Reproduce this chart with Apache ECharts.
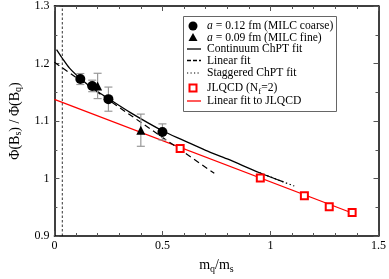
<!DOCTYPE html>
<html><head><meta charset="utf-8">
<script src="https://cdn.jsdelivr.net/npm/echarts@6/dist/echarts.min.js"></script>
<style>html,body{margin:0;padding:0;background:#fff}#c{width:389px;height:279px}</style>
</head><body><div id="c"></div>
<script>
// ---- data ----
const coarseX = [0.12, 0.175, 0.25, 0.50];
const coarseY = [1.173, 1.161, 1.138, 1.081];
const coarseErr = [0.0095, 0.010, 0.021, 0.014];
const fineX = [0.20, 0.40];
const fineY = [1.161, 1.084];
const fineErr = [0.022, 0.028];
const jlqcdX = [0.582, 0.953, 1.157, 1.272, 1.378];
const jlqcdY = [1.052, 1.001, 0.970, 0.951, 0.941];
const chptX = [0.01, 0.035, 0.07, 0.12, 0.18, 0.25, 0.35, 0.5, 0.6, 0.7, 0.8, 0.95, 1.06];
const chptY = [1.224, 1.210, 1.192, 1.174, 1.156, 1.139, 1.115, 1.083, 1.066, 1.049, 1.034, 1.010, 0.994];
const stagX = [0.95, 1.06, 1.11];
const stagY = [1.010, 0.994, 0.987];
const linX = [0, 0.74];
const linY = [1.202, 1.009];
const jfitX = [0, 1.378];
const jfitY = [1.1375, 0.940];
const physX = [0.0366, 0.0366];
const physY = [0.9, 1.3];
const xTicks = [0, 0.5, 1, 1.5];
const yTicks = [0.9, 1.0, 1.1, 1.2, 1.3];
const legendLabels = [
  '{i|a} = 0.12 fm (MILC coarse)',
  '{i|a} = 0.09 fm (MILC fine)',
  'Continuum ChPT fit',
  'Linear fit',
  'Staggered ChPT fit',
  'JLQCD (N{sub|f}=2)',
  'Linear fit to JLQCD'
];

const zip = (a, b) => a.map((v, i) => [v, b[i]]);
const zip3 = (a, b, c) => a.map((v, i) => [v, b[i], c[i]]);

const FONT = '"Liberation Serif", "DejaVu Serif", serif';

function errRender(params, api) {
  const x = api.value(0), y = api.value(1), e = api.value(2);
  const top = api.coord([x, y + e]);
  const bot = api.coord([x, y - e]);
  const cap = 4;
  const st = { stroke: '#999', lineWidth: 1.2 };
  return { type: 'group', children: [
    { type: 'line', shape: { x1: top[0], y1: top[1], x2: bot[0], y2: bot[1] }, style: st },
    { type: 'line', shape: { x1: top[0] - cap, y1: top[1], x2: top[0] + cap, y2: top[1] }, style: st },
    { type: 'line', shape: { x1: bot[0] - cap, y1: bot[1], x2: bot[0] + cap, y2: bot[1] }, style: st }
  ]};
}

const axisCommon = {
  type: 'value',
  axisLine: { show: true, onZero: false, lineStyle: { color: '#000', width: 1.5 } },
  axisTick: { show: true, inside: true, length: 5, lineStyle: { color: '#555', width: 1 } },
  minorTick: { show: true, length: 3, lineStyle: { color: '#555', width: 1 } },
  splitLine: { show: false },
  minorSplitLine: { show: false }
};

// legend (drawn as graphic elements)
const LX = 193, rowY = [26, 37.5, 49, 60.5, 73, 88, 101];
const LFS = 11.6;
const legRich = {
  i: { fontFamily: FONT, fontSize: LFS, fontStyle: 'italic', fill: '#000' },
  sub: { fontFamily: FONT, fontSize: 9, fill: '#000', padding: [7, 0, 0, 0] }
};
const legendGraphics = [
  { type: 'rect', shape: { x: 183.5, y: 16.5, width: 153, height: 95 }, style: { fill: '#fff', stroke: '#666', lineWidth: 1 }, z: 100 },
  { type: 'circle', shape: { cx: LX, cy: rowY[0], r: 4.5 }, style: { fill: '#000' }, z: 101 },
  { type: 'polygon', shape: { points: [[LX, rowY[1] - 4.5], [LX - 4.5, rowY[1] + 3.5], [LX + 4.5, rowY[1] + 3.5]] }, style: { fill: '#000' }, z: 101 },
  { type: 'line', shape: { x1: 187, y1: rowY[2], x2: 201, y2: rowY[2] }, style: { stroke: '#000', lineWidth: 1.3 }, z: 101 },
  { type: 'line', shape: { x1: 187, y1: rowY[3], x2: 201, y2: rowY[3] }, style: { stroke: '#000', lineWidth: 1.3, lineDash: [4, 2] }, z: 101 },
  { type: 'line', shape: { x1: 187, y1: rowY[4], x2: 201, y2: rowY[4] }, style: { stroke: '#000', lineWidth: 1.2, lineDash: [1.2, 2.3] }, z: 101 },
  { type: 'rect', shape: { x: LX - 3.5, y: rowY[5] - 3.5, width: 7, height: 7 }, style: { fill: '#fff', stroke: '#f00', lineWidth: 2 }, z: 101 },
  { type: 'line', shape: { x1: 187, y1: rowY[6], x2: 201, y2: rowY[6] }, style: { stroke: '#f00', lineWidth: 1.3 }, z: 101 }
].concat(legendLabels.map((t, k) => ({
  type: 'text', x: 207, y: rowY[k], z: 101,
  style: { text: t, fontFamily: FONT, fontSize: LFS, fill: '#000', verticalAlign: 'middle', rich: legRich }
})));

const chart = echarts.init(document.getElementById('c'), null, { renderer: 'canvas' });
chart.setOption({
  animation: false,
  grid: { left: 41, right: 9, top: 5, bottom: 37 },
  xAxis: [
    Object.assign({}, axisCommon, {
      min: 0, max: 1.5, interval: 0.5, position: 'bottom',
      minorTick: Object.assign({}, axisCommon.minorTick, { splitNumber: 5 }),
      axisLabel: { color: '#000', fontFamily: FONT, fontSize: 12, margin: 4,
        formatter: v => xTicks.includes(v) ? String(v) : '' },
      name: '{m|m}{sub|q}{m|/m}{sub|s}', nameLocation: 'middle', nameGap: 21,
      nameTextStyle: { rich: {
        m: { fontFamily: FONT, fontSize: 14, color: '#000' },
        sub: { fontFamily: FONT, fontSize: 10, color: '#000', padding: [7, 0, 0, 0] }
      } }
    }),
    Object.assign({}, axisCommon, {
      min: 0, max: 1.5, interval: 0.5, position: 'top',
      minorTick: Object.assign({}, axisCommon.minorTick, { splitNumber: 5 }),
      axisLabel: { show: false }
    })
  ],
  yAxis: [
    Object.assign({}, axisCommon, {
      min: 0.9, max: 1.3, interval: 0.1, position: 'left',
      minorTick: Object.assign({}, axisCommon.minorTick, { splitNumber: 2 }),
      axisLabel: { color: '#000', fontFamily: FONT, fontSize: 12, margin: 5,
        formatter: v => { const r = Math.round(v * 10) / 10; return yTicks.some(t => Math.abs(t - r) < 1e-9) ? String(r) : ''; } },
      name: '{m|Φ(B}{sub|s}{m|) / Φ(B}{sub|q}{m|)}', nameLocation: 'middle', nameGap: 23, nameRotate: 90,
      nameTextStyle: { rich: {
        m: { fontFamily: FONT, fontSize: 14, color: '#000' },
        sub: { fontFamily: FONT, fontSize: 10, color: '#000', padding: [7, 0, 0, 0] }
      } }
    }),
    Object.assign({}, axisCommon, {
      min: 0.9, max: 1.3, interval: 0.1, position: 'right',
      minorTick: Object.assign({}, axisCommon.minorTick, { splitNumber: 2 }),
      axisLabel: { show: false }
    })
  ],
  graphic: legendGraphics,
  series: [
    { name: 'phys', type: 'line', data: zip(physX, physY), symbol: 'none', silent: true,
      lineStyle: { color: '#000', width: 0.8, type: [2.5, 2] }, z: 1 },
    { name: 'jfit', type: 'line', data: zip(jfitX, jfitY), symbol: 'none',
      lineStyle: { color: '#f00', width: 1.3 }, z: 2 },
    { name: 'lin', type: 'line', data: zip(linX, linY), symbol: 'none',
      lineStyle: { color: '#000', width: 1.2, type: [6, 4] }, z: 3 },
    { name: 'stag', type: 'line', data: zip(stagX, stagY), symbol: 'none',
      lineStyle: { color: '#000', width: 1.2, type: [1.5, 2.5] }, z: 3 },
    { name: 'chpt', type: 'line', data: zip(chptX, chptY), symbol: 'none', smooth: 0.3,
      lineStyle: { color: '#000', width: 1.3 }, z: 4 },
    { name: 'errC', type: 'custom', renderItem: errRender, data: zip3(coarseX, coarseY, coarseErr), z: 5 },
    { name: 'errF', type: 'custom', renderItem: errRender, data: zip3(fineX, fineY, fineErr), z: 5 },
    { name: 'coarse', type: 'scatter', data: zip(coarseX, coarseY), symbol: 'circle', symbolSize: 10,
      itemStyle: { color: '#000', opacity: 1 }, z: 6 },
    { name: 'fine', type: 'scatter', data: zip(fineX, fineY), symbol: 'triangle', symbolSize: 9,
      itemStyle: { color: '#000', opacity: 1 }, z: 6 },
    { name: 'jlqcd', type: 'scatter', data: zip(jlqcdX, jlqcdY), symbol: 'rect', symbolSize: 7,
      itemStyle: { color: '#fff', borderColor: '#f00', borderWidth: 2, opacity: 1 }, z: 6 }
  ]
});
</script></body></html>
